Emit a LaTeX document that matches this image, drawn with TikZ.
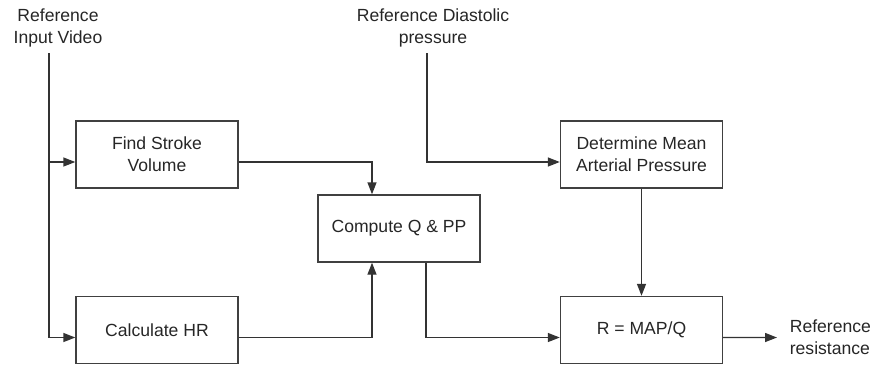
\documentclass[tikz,border=0pt]{standalone}
\usepackage{fontspec}
\setmainfont{Liberation Sans}
\usetikzlibrary{arrows.meta}

\begin{document}
\begin{tikzpicture}[
    blk/.style={draw=black!75, line width=0.8pt, minimum width=3.24cm, minimum height=1.34cm, align=center, font=\fontsize{10}{12.5}\selectfont, text=black!85},
    lbl/.style={align=center, font=\fontsize{10}{12.5}\selectfont, text=black!85},
    wire/.style={draw=black!80, line width=0.8pt},
    flow/.style={wire, -{Triangle[length=2.4mm,width=1.8mm]}}]
      \useasboundingbox (0,0) rectangle (17.5,-7.32);
      % inputs
      \node[lbl] (vid) at (1.16,-0.55) {Reference\\Input Video};
      \node[lbl] (dia) at (8.66,-0.55) {Reference Diastolic\\pressure};
      \coordinate (vtop) at (0.98,-1.06);
      \coordinate (dtop) at (8.54,-1.06);
      % blocks
      \node[blk] (sv) at (3.14,-3.09) {Find Stroke\\Volume};
      \node[blk] (hr) at (3.14,-6.6) {Calculate HR};
      \node[blk] (cq) at (7.98,-4.57) {Compute Q \& PP};
      \node[blk] (map) at (12.83,-3.09) {Determine Mean\\Arterial Pressure};
      \node[blk] (r) at (12.83,-6.6) {R = MAP/Q};
      \node[lbl, align=left, anchor=west, inner xsep=0.25cm] (res) at (15.54,-6.75) {Reference\\resistance};
      % ports
      \coordinate (svin) at ([yshift=-1.5mm]sv.west);
      \coordinate (svout) at ([yshift=-1.5mm]sv.east);
      \coordinate (hrin) at ([yshift=-1.5mm]hr.west);
      \coordinate (hrout) at ([yshift=-1.5mm]hr.east);
      \coordinate (mapin) at ([yshift=-1.5mm]map.west);
      \coordinate (rin) at ([yshift=-1.5mm]r.west);
      \coordinate (rout) at ([yshift=-1.5mm]r.east);
      % connectors
      \draw[flow] (vtop) |- (hrin);
      \draw[flow] (vtop |- svin) -- (svin);
      \draw[flow] (svout) -| ([xshift=-5.4mm]cq.north);
      \draw[flow] (hrout) -| ([xshift=-5.4mm]cq.south);
      \draw[flow] ([xshift=5.4mm]cq.south) |- (rin);
      \draw[flow] (dtop) |- (mapin);
      \draw[flow] (map.south) -- (r.north);
      \draw[flow] (rout) -- (res.west);
\end{tikzpicture}
\end{document}
